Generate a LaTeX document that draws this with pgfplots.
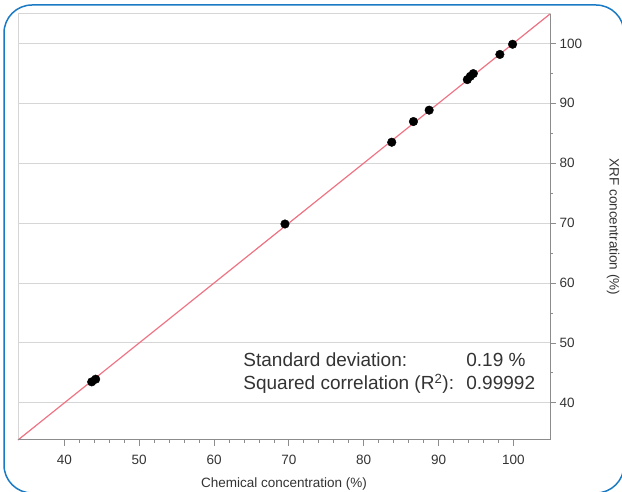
\documentclass[border=0pt]{standalone}
\usepackage{fontspec}
\setmainfont{Liberation Sans}
\usepackage{pgfplots}
\pgfplotsset{compat=1.18}

\definecolor{frameblue}{HTML}{1A7AC4}
\definecolor{fitred}{HTML}{EE7484}
\definecolor{gridgray}{HTML}{D6D6D6}
\definecolor{axgray}{HTML}{8C8C8C}
\definecolor{txtgray}{HTML}{333333}

\newcommand{\tickfont}{\fontsize{13.5}{16}\selectfont}
\newcommand{\notefont}{\fontsize{19}{23}\selectfont}

\begin{document}
\begin{tikzpicture}
\begin{axis}[
    at={(18pt,52pt)}, anchor=south west,
    scale only axis, width=532pt, height=426pt,
    xmin=33.8, xmax=104.9, ymin=33.8, ymax=104.9,
    xtick={40,50,...,100}, ytick={40,50,...,100},
    minor x tick num=4, minor y tick num=1,
    xtick pos=bottom, ytick pos=right,
    tick align=outside,
    major tick length=6pt, minor tick length=3pt,
    tick style={axgray, line width=0.8pt},
    ymajorgrids, major grid style={gridgray, line width=1pt},
    axis line style={gridgray, line width=1pt},
    /pgf/number format/assume math mode=true,
    ticklabel style={font=\tickfont, text=txtgray},
    xticklabel style={yshift=-6pt},
    xlabel={Chemical concentration (\%)},
    ylabel={XRF concentration (\%)},
    every axis x label/.style={at={(rel axis cs:0.5,0)}, anchor=center,
        yshift=-44pt, font=\tickfont, text=txtgray},
    every axis y label/.style={at={(rel axis cs:1,0.5)}, anchor=center,
        rotate=-90, yshift=63pt, font=\tickfont, text=txtgray},
    clip=false,
]
% 1:1 line
\addplot[fitred, line width=1.2pt] coordinates {(33.8,33.8) (104.9,104.9)};

% measured samples
\addplot[only marks, mark=*, mark size=4.3pt, black] coordinates {
    (43.65,43.50) (44.18,43.95)
    (69.48,69.85)
    (83.75,83.50) (86.65,86.95) (88.75,88.85)
    (93.85,93.95) (94.25,94.50) (94.65,94.95)
    (98.20,98.15) (99.90,99.85)
};

% darker bottom and right axis lines
\draw[axgray, line width=1pt] (rel axis cs:0,0) -- (rel axis cs:1,0) -- (rel axis cs:1,1);

\node[anchor=base west, inner sep=0pt, font=\notefont, text=txtgray]
    at (axis cs:63.9,46.03) {Standard deviation:};
\node[anchor=base west, inner sep=0pt, font=\notefont, text=txtgray]
    at (axis cs:93.7,46.03) {0.19 \%};
\node[anchor=base west, inner sep=0pt, font=\notefont, text=txtgray]
    at (axis cs:63.9,42.15) {Squared correlation (R\textsuperscript{2}):};
\node[anchor=base west, inner sep=0pt, font=\notefont, text=txtgray]
    at (axis cs:93.7,42.15) {0.99992};
\end{axis}

\begin{scope}
  \clip (0,0) rectangle (622pt,492pt);
  \draw[frameblue, line width=1.5pt, rounded corners=28pt] (4pt,-1pt) rectangle (624pt,487pt);
\end{scope}

\pgfresetboundingbox
\path[use as bounding box] (0,0) rectangle (622pt,492pt);
\end{tikzpicture}
\end{document}
